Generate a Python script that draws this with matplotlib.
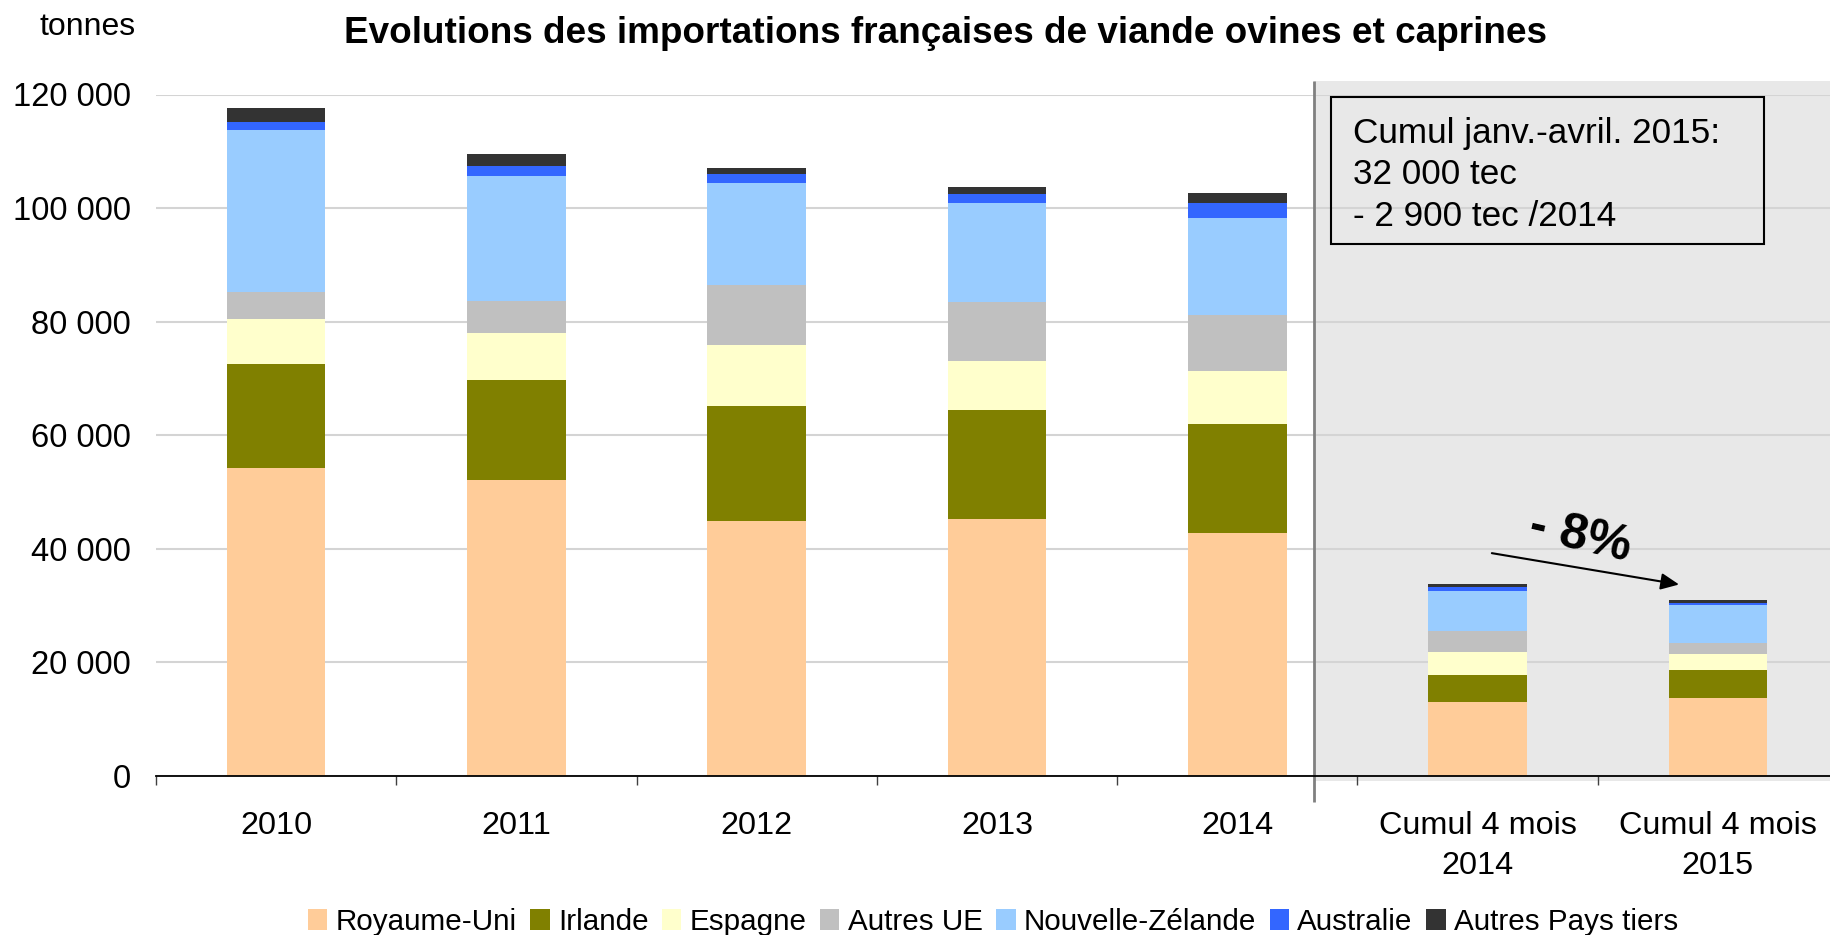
import matplotlib
matplotlib.use("Agg")
import matplotlib.pyplot as plt
from matplotlib.patches import Patch, Rectangle
from matplotlib.ticker import FuncFormatter, FixedLocator
import numpy as np

plt.rcParams["font.family"] = ["Liberation Sans", "DejaVu Sans"]

# tonnes
categories = ["2010", "2011", "2012", "2013", "2014",
              "Cumul 4 mois\n2014", "Cumul 4 mois\n2015"]
royaume_uni = [54200, 52100, 44900, 45250, 42750, 13080, 13780]
irlande = [18350, 17600, 20200, 19150, 19230, 4750, 4930]
espagne = [7900, 8250, 10750, 8650, 9290, 4050, 2810]
autres_ue = [4770, 5650, 10670, 10500, 9860, 3700, 1880]
nouvelle_zelande = [28600, 21980, 17860, 17290, 17050, 7040, 6750]
australie = [1290, 1780, 1700, 1620, 2670, 700, 350]
autres_pays_tiers = [2590, 2100, 970, 1210, 1780, 530, 530]

series_names = ["Royaume-Uni", "Irlande", "Espagne", "Autres UE",
                "Nouvelle-Zélande", "Australie", "Autres Pays tiers"]
series_values = [royaume_uni, irlande, espagne, autres_ue,
                 nouvelle_zelande, australie, autres_pays_tiers]
colors = ["#FFCC99", "#808000", "#FFFFCC", "#C0C0C0",
          "#99CCFF", "#3366FF", "#333333"]

y_ticks = [0, 20000, 40000, 60000, 80000, 100000, 120000]

W, H = 1830, 935
fig = plt.figure(figsize=(W / 100, H / 100), dpi=100)
ax = fig.add_axes([156 / W, 1 - 776 / H, 1682 / W, 681.5 / H])

x = np.arange(len(categories))
bottom = np.zeros(len(categories))
for name, vals, col in zip(series_names, series_values, colors):
    ax.bar(x, vals, width=0.41, bottom=bottom, color=col, zorder=2, label=name)
    bottom += np.array(vals)

ax.set_xlim(-0.5, 6.5)
ax.set_ylim(0, 120000)

# grey zone for the partial-year comparison
ax.add_patch(Rectangle((4.321, -830), 3.0, 123270, facecolor="#E8E8E8",
                       edgecolor="none", zorder=0.2, clip_on=False))
ax.plot([4.321, 4.321], [-4526, 122440], color="#808080", lw=2,
        zorder=3, clip_on=False, solid_capstyle="butt")

ax.yaxis.set_major_locator(FixedLocator(y_ticks))
ax.yaxis.set_major_formatter(FuncFormatter(lambda v, p: f"{int(v):,}".replace(",", " ")))
ax.grid(axis="y", color="#D4D4D4", lw=1.5)
ax.set_axisbelow(True)
ax.tick_params(axis="y", length=0, pad=18, labelsize=23.6)

ax.set_xticks(x)
ax.set_xticklabels(categories, linespacing=1.42)
ax.set_xticks(np.arange(-0.5, 7, 1.0), minor=True)
ax.tick_params(axis="x", which="major", length=0, pad=25.5, labelsize=23.3)
ax.tick_params(axis="x", which="minor", length=6.5, width=1, color="#404040")

for s in ["left", "right", "top"]:
    ax.spines[s].set_visible(False)
ax.spines["bottom"].set_linewidth(1.3)
ax.spines["bottom"].set_zorder(4)

# summary box
ax.add_patch(Rectangle((4.39, 93630), 1.80, 25890, facecolor="none",
                       edgecolor="black", lw=1.5, zorder=4, clip_on=False))
box_lines = ["Cumul janv.-avril. 2015:", "32 000 tec", "- 2 900 tec /2014"]
for line, yb in zip(box_lines, [111524, 104200, 96908]):
    ax.text(4.483, yb, line, fontsize=25.3, va="baseline", ha="left", zorder=5)

# evolution arrow
ax.annotate("", xy=(5.85, 33640), xytext=(5.048, 39320),
            arrowprops=dict(arrowstyle="-|>,head_length=1.1,head_width=0.5",
                            color="black", lw=1.5), zorder=5)
ax.text(5.426, 42090, "- 8%", fontsize=36, fontweight="bold", rotation=-13,
        ha="center", va="center", zorder=5)

fig.text(945 / W, 1 - 43.3 / H, "Evolutions des importations françaises de viande ovines et caprines",
         ha="center", va="baseline", fontsize=26.6, fontweight="bold")
fig.text(40 / W, 1 - 35 / H, "tonnes", ha="left", va="baseline", fontsize=23)

handles = [Patch(facecolor=c, edgecolor="none") for c in colors]
fig.legend(handles, series_names, loc="center", bbox_to_anchor=(993 / W, 1 - 922 / H),
           ncol=7, frameon=False, fontsize=21.3, handlelength=0.66, handleheight=0.68,
           handletextpad=0.28, columnspacing=0.45, borderpad=0, borderaxespad=0)

fig.savefig("out.png", dpi=100)
